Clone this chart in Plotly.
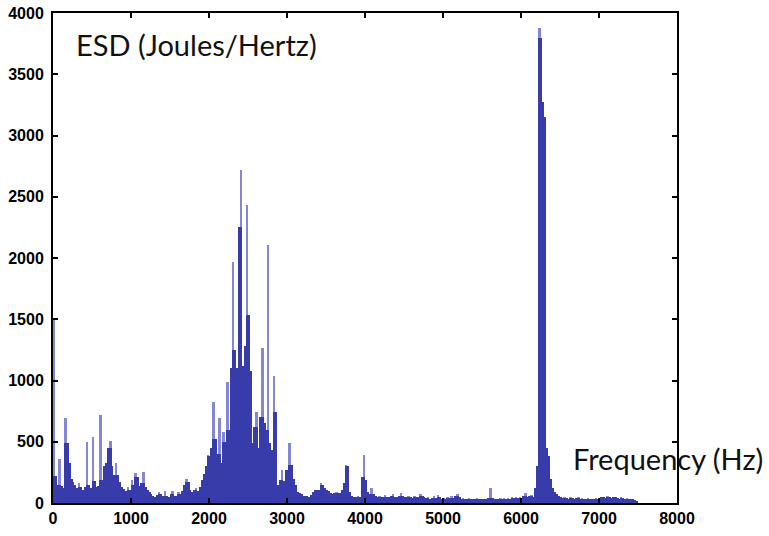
import plotly.graph_objects as go

# Energy spectral density, 25 Hz bins starting at 0 Hz
BIN_HZ = 25
esd = [
    # 0 - 475 Hz
    1500, 220, 150, 360, 140, 120, 690, 490, 330, 200,
    170, 150, 120, 160, 130, 110, 130, 500, 150, 120,
    # 500 - 975 Hz
    540, 180, 130, 140, 720, 190, 300, 330, 450, 510,
    300, 230, 330, 230, 170, 130, 115, 100, 130, 110,
    # 1000 - 1475 Hz
    190, 150, 245, 215, 140, 160, 250, 130, 110, 90,
    70, 60, 50, 65, 90, 70, 55, 100, 60, 50,
    # 1500 - 1975 Hz
    70, 95, 55, 60, 90, 70, 100, 150, 200, 170,
    110, 90, 110, 120, 100, 130, 190, 240, 300, 390,
    # 2000 - 2475 Hz
    380, 450, 825, 520, 400, 690, 330, 580, 500, 990,
    600, 1100, 1970, 1250, 1100, 2250, 2720, 1120, 1280, 2430,
    # 2500 - 2975 Hz
    1535, 1080, 490, 620, 740, 450, 700, 1265, 650, 600,
    2105, 490, 430, 1040, 740, 150, 190, 270, 180, 270,
    # 3000 - 3475 Hz
    270, 490, 310, 200, 150, 90, 80, 70, 60, 55,
    60, 50, 65, 90, 110, 110, 110, 160, 150, 120,
    # 3500 - 3975 Hz
    110, 100, 80, 75, 80, 90, 80, 85, 110, 160,
    310, 300, 90, 55, 50, 45, 55, 50, 215, 390,
    # 4000 - 4475 Hz
    190, 90, 75, 125, 70, 55, 50, 60, 45, 50,
    65, 50, 45, 55, 70, 50, 45, 60, 80, 55,
    # 4500 - 4975 Hz
    50, 45, 60, 45, 40, 55, 50, 45, 70, 55,
    45, 40, 50, 35, 40, 55, 40, 65, 45, 35,
    # 5000 - 5475 Hz
    40, 35, 45, 40, 55, 40, 60, 75, 50, 35,
    40, 35, 30, 40, 35, 30, 35, 40, 30, 35,
    # 5500 - 5975 Hz
    30, 35, 30, 40, 125, 40, 35, 30, 35, 40,
    35, 40, 35, 40, 35, 45, 40, 45, 40, 50,
    # 6000 - 6475 Hz
    40, 55, 80, 45, 60, 65, 50, 120, 300, 3880,
    3800, 3270, 3150, 450, 380, 200, 120, 90, 75, 60,
    # 6500 - 6975 Hz
    45, 40, 50, 40, 35, 45, 40, 35, 40, 45,
    35, 40, 30, 35, 40, 30, 35, 30, 40, 35,
    # 7000 - 7475 Hz
    40, 45, 50, 40, 55, 45, 40, 50, 45, 40,
    35, 45, 40, 35, 40, 35, 30, 35, 25, 20,
]
freq_hz = [i * BIN_HZ for i in range(len(esd))]

x_ticks = [0, 1000, 2000, 3000, 4000, 5000, 6000, 7000, 8000]
y_ticks = [0, 500, 1000, 1500, 2000, 2500, 3000, 3500, 4000]

# Solid body of the spectrum: each bin clipped to its taller neighbour,
# so isolated narrow peaks stand out in a lighter shade above it.
body = []
for i, v in enumerate(esd):
    left = esd[i - 1] if i > 0 else 0
    right = esd[i + 1] if i < len(esd) - 1 else 0
    body.append(min(v, max(left, right)))

DARK = "#383cab"
LIGHT = "#8487d6"

fig = go.Figure()
fig.add_trace(go.Bar(x=freq_hz, y=esd, width=BIN_HZ, offset=0,
                     marker=dict(color=LIGHT, line=dict(width=0))))
fig.add_trace(go.Bar(x=freq_hz, y=body, width=BIN_HZ, offset=0,
                     marker=dict(color=DARK, line=dict(width=0))))

tick_font = dict(family="Liberation Sans", size=16, color="black", weight="bold")
axis_common = dict(
    showline=True, linecolor="black", linewidth=2, mirror="ticks",
    ticks="inside", ticklen=5, tickwidth=1.5, tickcolor="black",
    showgrid=False, zeroline=False, tickfont=tick_font, automargin=False,
)

fig.update_layout(
    width=769, height=536,
    margin=dict(l=53, r=92, t=13, b=33),
    paper_bgcolor="white", plot_bgcolor="white",
    barmode="overlay", bargap=0, showlegend=False,
    xaxis=dict(range=[0, 8000], tickvals=x_ticks,
               ticktext=[str(v) for v in x_ticks], **axis_common),
    yaxis=dict(range=[0, 4000], tickvals=y_ticks, ticklabelstandoff=4,
               ticktext=[str(v) for v in y_ticks], **axis_common),
    annotations=[
        dict(text="ESD (Joules/Hertz)", xref="paper", yref="paper",
             x=0.033, y=0.935, xanchor="left", yanchor="middle",
             showarrow=False,
             font=dict(family="Lato", size=29, color="#111111")),
        dict(text="Frequency (Hz)", xref="paper", yref="paper",
             x=0.83, y=0.09, xanchor="left", yanchor="middle",
             showarrow=False,
             font=dict(family="Lato", size=29, color="#111111")),
    ],
)

fig.write_html("out.html")
